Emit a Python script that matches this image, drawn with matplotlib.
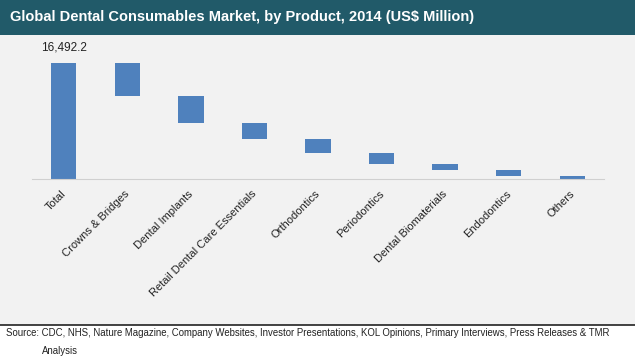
import numpy as np
import matplotlib.pyplot as plt
import matplotlib.transforms as mtransforms
from matplotlib.patches import Rectangle

plt.rcParams['font.family'] = ['Liberation Sans', 'DejaVu Sans']

# datos (US$ millones)
categorias = ['Total', 'Crowns & Bridges', 'Dental Implants', 'Retail Dental Care Essentials',
              'Orthodontics', 'Periodontics', 'Dental Biomaterials', 'Endodontics', 'Others']
total = 16492.2
segmentos = [4680, 3790, 2380, 1950, 1610, 870, 850, 362.2]

titulo = 'Global Dental Consumables Market, by Product, 2014 (US$ Million)'
fuente_1 = 'Source: CDC, NHS, Nature Magazine, Company Websites, Investor Presentations, KOL Opinions, Primary Interviews, Press Releases & TMR'
fuente_2 = 'Analysis'

W, H = 635, 364
fig = plt.figure(figsize=(W / 100, H / 100), dpi=100)
fig.patch.set_facecolor('white')

# fondo gris y barra de titulo
fig.add_artist(Rectangle((0, (H - 325) / H), 1, 290 / H, transform=fig.transFigure,
                         facecolor='#f2f2f2', edgecolor='none', zorder=0))
fig.add_artist(Rectangle((0, (H - 35) / H), 1, 35 / H, transform=fig.transFigure,
                         facecolor='#215a69', edgecolor='none', zorder=0))
fig.add_artist(plt.Line2D([0, 1], [(H - 325) / H] * 2, transform=fig.transFigure,
                          color='#222222', lw=1.2))
fig.text(10 / W, 1 - 17.5 / H, titulo, color='white', fontsize=10.5, fontweight='bold',
         va='center', ha='left')

# ejes
y_max = 20000
alto_px = 116 * y_max / total
ax = fig.add_axes([32 / W, (H - 179) / H, (604 - 32) / W, alto_px / H])
ax.set_facecolor('none')

valores = np.array([total] + segmentos)
bases = np.concatenate([[0], total - np.cumsum(segmentos)])
x = np.arange(len(categorias))
ax.bar(x, valores, bottom=bases, width=0.4, color='#4f81bd')

ax.text(x[0], total + 1300, f'{total:,.1f}', ha='center', va='bottom', fontsize=8.5, color='#222222')

ax.set_xlim(-0.5, len(categorias) - 0.5)
ax.set_ylim(0, y_max)
ax.set_yticks([])
ax.set_xticks(x)
ax.set_xticklabels(categorias, rotation=45, ha='right', va='top', rotation_mode='anchor',
                   fontsize=8, color='#222222')
ax.tick_params(axis='x', length=0, pad=7)
desplazamiento = mtransforms.ScaledTranslation(-3 / 100, 0, fig.dpi_scale_trans)
for etiqueta in ax.get_xticklabels():
    etiqueta.set_transform(etiqueta.get_transform() + desplazamiento)
for s in ['top', 'right', 'left']:
    ax.spines[s].set_visible(False)
ax.spines['bottom'].set_color('#d0d0d0')

fig.text(6 / W, 1 - 333 / H, fuente_1, fontsize=6.9, va='center', ha='left', color='#222222')
fig.text(42 / W, 1 - 350.5 / H, fuente_2, fontsize=6.9, va='center', ha='left', color='#222222')

fig.savefig('out.png', dpi=100, facecolor=fig.get_facecolor())
